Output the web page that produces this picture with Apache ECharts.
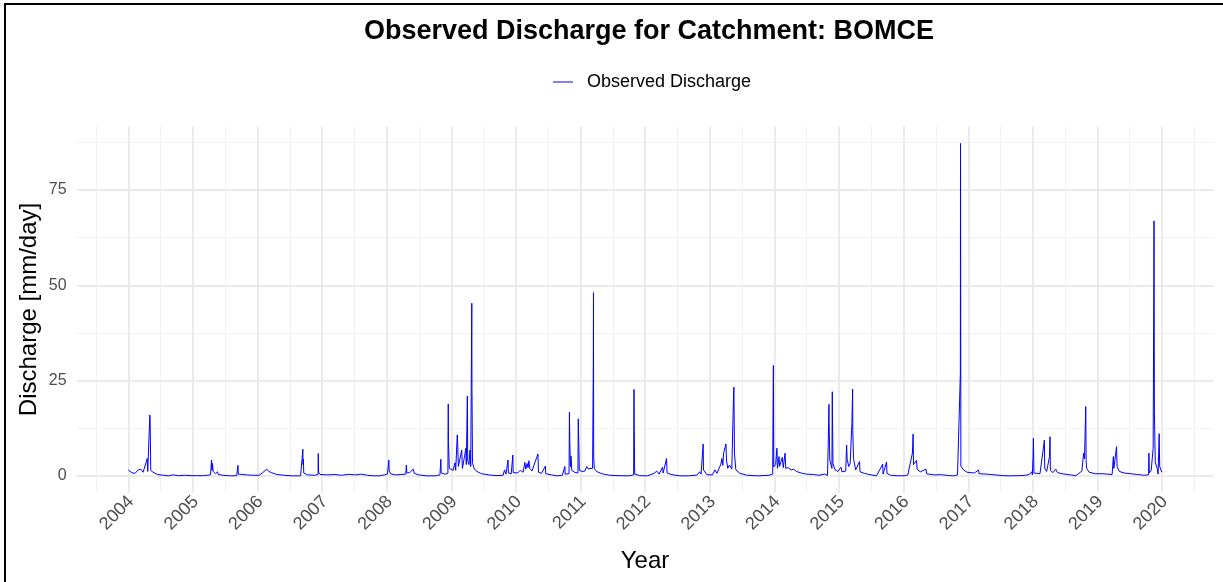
<!DOCTYPE html>
<html>
<head>
<meta charset="utf-8">
<title>Observed Discharge for Catchment: BOMCE</title>
<script src="https://cdn.jsdelivr.net/npm/echarts@6/dist/echarts.min.js"></script>
<style>
  html, body { margin: 0; padding: 0; background: #ffffff; }
  #chart { width: 1223px; height: 582px; }
</style>
</head>
<body>
<div id="chart"></div>
<script>
// Daily observed discharge (mm/day), sampled at event peaks and recession points
const obsDates = [
  '2004-01-01','2004-01-08','2004-01-20','2004-02-08','2004-02-26','2004-03-12','2004-03-25','2004-04-05',
  '2004-04-17','2004-04-20','2004-04-30','2004-05-02','2004-05-04','2004-05-07','2004-05-20','2004-06-15',
  '2004-07-20','2004-08-15','2004-09-10','2004-10-10','2004-11-15','2004-12-20',
  '2005-01-20','2005-03-01','2005-04-10','2005-04-16','2005-04-18','2005-04-21','2005-04-25','2005-05-08',
  '2005-05-20','2005-05-24','2005-06-20','2005-08-01','2005-09-05','2005-09-12','2005-09-14','2005-09-25',
  '2005-11-01','2005-12-10',
  '2006-01-10','2006-01-30','2006-02-22','2006-03-05','2006-03-20','2006-04-20','2006-06-01','2006-07-15',
  '2006-09-01','2006-09-12','2006-09-14','2006-09-15','2006-09-17','2006-09-19','2006-10-10','2006-11-20',
  '2006-12-09','2006-12-10','2006-12-12','2006-12-20',
  '2007-02-01','2007-03-15','2007-04-20','2007-06-01','2007-07-10','2007-08-10','2007-09-15','2007-10-20',
  '2007-11-20','2007-12-20',
  '2008-01-05','2008-01-13','2008-01-15','2008-01-17','2008-01-22','2008-02-20','2008-03-20','2008-04-18',
  '2008-04-21','2008-04-24','2008-05-10','2008-05-30','2008-06-05','2008-06-30','2008-08-15','2008-10-01',
  '2008-10-28','2008-11-02','2008-11-04','2008-11-25','2008-12-12','2008-12-14','2008-12-15','2008-12-20',
  '2009-01-10','2009-01-21','2009-01-25','2009-02-03','2009-02-05','2009-02-09','2009-02-15','2009-02-28',
  '2009-03-04','2009-03-12','2009-03-24','2009-03-26','2009-04-01','2009-04-03','2009-04-10','2009-04-16',
  '2009-04-20','2009-04-26','2009-04-27','2009-04-30','2009-05-10','2009-05-25','2009-06-20','2009-08-01',
  '2009-09-10','2009-10-20','2009-10-28','2009-11-05','2009-11-17','2009-11-19','2009-12-05','2009-12-14',
  '2009-12-16',
  '2010-01-10','2010-01-25','2010-02-10','2010-02-20','2010-02-25','2010-03-05','2010-03-10','2010-03-15',
  '2010-03-20','2010-04-01','2010-05-05','2010-05-08','2010-05-25','2010-06-16','2010-06-18','2010-07-20',
  '2010-08-20','2010-09-20','2010-10-04','2010-10-06','2010-10-28','2010-10-30','2010-11-01','2010-11-05',
  '2010-11-08','2010-11-12','2010-12-01','2010-12-17','2010-12-19','2010-12-21','2010-12-25',
  '2011-01-10','2011-01-25','2011-02-05','2011-02-12','2011-02-20','2011-03-10','2011-03-14','2011-03-15',
  '2011-03-16','2011-03-20','2011-04-01','2011-05-01','2011-06-15','2011-08-01','2011-10-01','2011-10-28',
  '2011-10-30','2011-10-31','2011-11-03','2011-12-01',
  '2012-01-15','2012-02-20','2012-03-07','2012-03-20','2012-04-08','2012-04-12','2012-05-01','2012-05-04',
  '2012-06-01','2012-07-15','2012-09-01','2012-10-20','2012-11-05','2012-11-12','2012-11-24','2012-11-26',
  '2012-12-15',
  '2013-01-15','2013-01-30','2013-02-10','2013-03-04','2013-03-10','2013-03-15','2013-03-20','2013-04-02',
  '2013-04-05','2013-04-12','2013-04-22','2013-05-05','2013-05-15','2013-05-17','2013-05-20','2013-05-28',
  '2013-06-20','2013-08-01','2013-10-01','2013-12-01','2013-12-22','2013-12-24','2013-12-26','2013-12-28',
  '2014-01-08','2014-01-15','2014-01-18','2014-01-27','2014-01-30','2014-02-08','2014-02-14','2014-02-20',
  '2014-03-02','2014-03-06','2014-03-20','2014-04-05','2014-04-20','2014-05-05','2014-06-01','2014-07-01',
  '2014-08-10','2014-09-10','2014-10-10','2014-10-28','2014-11-01','2014-11-05','2014-11-06','2014-11-10',
  '2014-11-22','2014-11-24','2014-11-25','2014-11-28','2014-12-10','2014-12-25',
  '2015-01-05','2015-01-12','2015-01-18','2015-02-08','2015-02-13','2015-02-16','2015-02-25','2015-03-05',
  '2015-03-15','2015-03-19','2015-03-20','2015-03-24','2015-04-05','2015-04-27','2015-04-30','2015-05-25',
  '2015-07-01','2015-08-01','2015-09-05','2015-09-07','2015-09-27','2015-09-29','2015-10-20','2015-12-01',
  '2016-01-10','2016-01-25','2016-02-20','2016-02-24','2016-02-26','2016-03-14','2016-03-18','2016-04-05',
  '2016-05-07','2016-05-10','2016-06-20','2016-08-01','2016-09-10','2016-10-10','2016-11-01','2016-11-17',
  '2016-11-18','2016-11-20','2016-12-05','2016-12-25',
  '2017-01-10','2017-02-05','2017-02-28','2017-03-03','2017-04-15','2017-06-01','2017-07-15','2017-08-20',
  '2017-10-15','2017-11-20','2017-12-10','2017-12-27','2017-12-29',
  '2018-01-02','2018-01-04','2018-01-07','2018-02-10','2018-02-28','2018-03-07','2018-03-09','2018-03-20',
  '2018-04-05','2018-04-08','2018-04-10','2018-04-25','2018-05-10','2018-05-20','2018-06-15','2018-08-01',
  '2018-09-01','2018-10-05','2018-10-15','2018-10-20','2018-10-27','2018-10-29','2018-11-01','2018-11-15',
  '2018-12-20',
  '2019-02-01','2019-03-25','2019-04-01','2019-04-04','2019-04-19','2019-04-22','2019-05-05','2019-05-15',
  '2019-06-01','2019-07-10','2019-08-15','2019-09-20','2019-10-17','2019-10-19','2019-10-21','2019-11-01',
  '2019-11-12','2019-11-17','2019-11-19','2019-11-24','2019-12-05','2019-12-10','2019-12-16','2019-12-19',
  '2019-12-31'
];
const obsValues = [
  1.6, 1.8, 0.9, 0.7, 1.6, 1.8, 1.0, 0.7,
  4.6, 1.2, 1.5, 16.0, 13.5, 1.5, 1.0, 0.4,
  0.2, 0.05, 0.3, 0.1, 0.2, 0.1,
  0.1, 0.1, 0.3, 4.2, 1.5, 3.3, 1.2, 0.6,
  1.1, 0.4, 0.2, 0.05, 0.1, 2.8, 0.5, 0.2,
  0.3, 0.2,
  0.2, 0.9, 1.8, 1.2, 0.9, 0.4, 0.2, 0.05,
  0.05, 0.4, 7.0, 3.0, 4.4, 0.8, 0.3, 0.2,
  0.4, 5.9, 1.0, 0.4,
  0.3, 0.4, 0.2, 0.45, 0.3, 0.5, 0.2, 0.05,
  0.05, 0.3,
  0.5, 4.2, 1.5, 2.0, 0.6, 0.3, 0.4, 0.5,
  2.9, 0.8, 0.9, 1.8, 0.7, 0.3, 0.05, 0.05,
  0.3, 4.4, 0.8, 0.5, 0.7, 18.9, 9.0, 2.0,
  1.5, 3.5, 1.5, 10.8, 8.7, 2.5, 2.0, 6.8,
  2.0, 2.5, 7.3, 3.0, 21.0, 4.0, 3.0, 6.8,
  2.5, 45.3, 23.2, 3.5, 1.8, 1.2, 0.6, 0.3,
  0.1, 0.2, 1.6, 0.5, 4.2, 0.8, 0.6, 5.5,
  0.9,
  0.8, 1.5, 1.0, 3.6, 1.8, 3.3, 2.2, 4.0,
  2.0, 1.3, 5.8, 1.0, 0.7, 2.6, 0.6, 0.3,
  0.05, 0.2, 2.5, 0.5, 0.6, 16.7, 9.0, 2.5,
  5.2, 1.5, 0.9, 0.8, 15.0, 10.5, 1.5,
  1.2, 1.3, 2.5, 1.9, 2.2, 2.0, 29.0, 48.1,
  5.1, 2.0, 1.2, 0.6, 0.2, 0.1, 0.05, 0.3,
  22.7, 14.3, 0.5, 0.1,
  0.05, 0.7, 1.3, 0.5, 2.3, 0.8, 4.6, 0.8,
  0.35, 0.05, 0.05, 0.25, 1.1, 0.5, 8.4, 1.6,
  0.35,
  0.3, 1.6, 0.7, 3.1, 4.6, 2.8, 6.1, 8.4,
  4.2, 2.0, 2.9, 1.8, 21.7, 23.3, 5.8, 1.6,
  0.7, 0.2, 0.05, 0.2, 0.5, 16.6, 29.0, 2.4,
  3.0, 7.3, 2.0, 5.1, 2.5, 2.8, 4.9, 2.2,
  6.0, 2.0, 2.2, 1.6, 1.8, 1.2, 0.8, 0.5,
  0.4, 0.2, 0.5, 0.2, 8.1, 18.8, 14.0, 4.2,
  2.0, 22.1, 16.0, 3.2, 1.6, 1.2,
  1.1, 2.3, 1.1, 1.3, 8.1, 4.4, 2.5, 3.3,
  13.8, 22.8, 12.0, 4.6, 1.6, 3.8, 1.1, 0.7,
  0.3, 0.05, 3.1, 0.5, 3.7, 0.7, 0.2, 0.05,
  0.1, 0.3, 6.0, 11.0, 3.0, 4.1, 1.7, 1.1,
  1.8, 0.6, 0.3, 0.35, 0.15, 0.05, 0.3, 26.8,
  87.2, 2.6, 1.6, 1.0,
  0.9, 0.8, 1.6, 0.6, 0.5, 0.3, 0.1, 0.05,
  0.1, 0.2, 0.4, 1.1, 0.3,
  5.1, 9.9, 0.8, 0.6, 6.8, 9.4, 2.0, 1.2,
  5.1, 10.3, 1.5, 0.9, 1.8, 0.9, 0.6, 0.3,
  0.1, 1.3, 6.0, 4.5, 18.2, 4.0, 2.0, 1.0,
  0.6,
  0.6, 0.4, 5.1, 2.0, 7.7, 2.5, 1.2, 1.5,
  0.8, 0.6, 0.4, 0.2, 0.3, 6.0, 0.8, 1.5,
  7.3, 66.9, 16.9, 3.5, 2.0, 0.5, 11.1, 2.5,
  1.0
];

// Axis breaks
const yearLabels = ['2004','2005','2006','2007','2008','2009','2010','2011','2012',
                    '2013','2014','2015','2016','2017','2018','2019','2020'];
const yMajorBreaks = [0, 25, 50, 75];
const yMinorBreaks = [12.5, 37.5, 62.5, 87.5];

const toUTC = s => {
  const p = s.split('-').map(Number);
  return Date.UTC(p[0], p[1] - 1, p[2]);
};

const seriesData = obsDates.map((d, i) => [toUTC(d), obsValues[i]]);
const yearTicks = yearLabels.map(y => Date.UTC(+y, 0, 1));
// minor breaks halfway between the yearly breaks (plus one on each outer side)
const minorTicks = [];
for (let y = +yearLabels[0] - 1; y <= +yearLabels[yearLabels.length - 1]; y++) {
  minorTicks.push((Date.UTC(y, 0, 1) + Date.UTC(y + 1, 0, 1)) / 2);
}

// axis limits padded 5% beyond the data range on each side
const tFirst = seriesData[0][0], tLast = seriesData[seriesData.length - 1][0];
const tPad = (tLast - tFirst) * 0.05;
const xMin = tFirst - tPad, xMax = tLast + tPad;
const yMin = -4.37, yMax = 91.7;

const FONT = "'Liberation Sans', Arial, Helvetica, sans-serif";
const GRID_MAJOR = '#EBEBEB';
const GRID_MINOR = '#F2F2F2';

const chart = echarts.init(document.getElementById('chart'), null, { renderer: 'canvas' });

chart.setOption({
  backgroundColor: '#ffffff',
  animation: false,
  textStyle: { fontFamily: FONT },
  title: {
    text: 'Observed Discharge for Catchment: BOMCE',
    left: 644,
    top: 13,
    textAlign: 'center',
    textStyle: { fontFamily: FONT, fontSize: 27, fontWeight: 'bold', color: '#000000' }
  },
  legend: {
    left: 548,
    top: 68,
    icon: 'rect',
    itemWidth: 20,
    itemHeight: 1.5,
    itemStyle: { color: '#5555FF' },
    textStyle: { fontFamily: FONT, fontSize: 18, color: '#000000', padding: [0, 0, 0, 9] },
    data: ['Observed Discharge']
  },
  grid: { left: 76.6, right: 9.5, top: 126.3, bottom: 89.3, containLabel: false },
  xAxis: [
    {
      type: 'value',
      min: xMin,
      max: xMax,
      name: 'Year',
      nameLocation: 'middle',
      nameGap: 57,
      nameMoveOverlap: false,
      nameTextStyle: { fontFamily: FONT, fontSize: 24, color: '#000000' },
      axisLine: { show: false },
      axisTick: { show: false, customValues: yearTicks },
      axisLabel: {
        customValues: yearTicks,
        formatter: v => String(new Date(v).getUTCFullYear()),
        rotate: 45,
        margin: 9,
        padding: [4, -4, 0, 0],
        fontFamily: FONT,
        fontSize: 18,
        color: '#4D4D4D'
      },
      splitLine: { show: true, lineStyle: { color: GRID_MAJOR, width: 2 } },
      z: 1
    },
    {
      type: 'value',
      min: xMin,
      max: xMax,
      axisLine: { show: false },
      axisTick: { show: false, customValues: minorTicks },
      axisLabel: { show: false, customValues: minorTicks },
      splitLine: { show: true, lineStyle: { color: GRID_MINOR, width: 1 } },
      z: 0
    }
  ],
  yAxis: [
    {
      type: 'value',
      min: yMin,
      max: yMax,
      name: 'Discharge [mm/day]',
      nameLocation: 'middle',
      nameGap: 35,
      nameMoveOverlap: false,
      nameTextStyle: { fontFamily: FONT, fontSize: 24, color: '#000000' },
      axisLine: { show: false },
      axisTick: { show: false, customValues: yMajorBreaks },
      axisLabel: {
        customValues: yMajorBreaks,
        margin: 10,
        fontFamily: FONT,
        fontSize: 16,
        color: '#4D4D4D'
      },
      splitLine: { show: true, lineStyle: { color: GRID_MAJOR, width: 2 } },
      z: 1
    },
    {
      type: 'value',
      min: yMin,
      max: yMax,
      axisLine: { show: false },
      axisTick: { show: false, customValues: yMinorBreaks },
      axisLabel: { show: false, customValues: yMinorBreaks },
      splitLine: { show: true, lineStyle: { color: GRID_MINOR, width: 1 } },
      z: 0
    }
  ],
  series: [
    {
      name: 'Observed Discharge',
      type: 'line',
      xAxisIndex: 0,
      yAxisIndex: 0,
      data: seriesData,
      symbol: 'none',
      showSymbol: false,
      lineStyle: { color: '#0000FF', width: 1 },
      itemStyle: { color: '#0000FF' },
      z: 5
    }
  ],
  graphic: [
    {
      type: 'rect',
      silent: true,
      shape: { x: 5, y: 4, width: 1240, height: 600 },
      style: { fill: 'none', stroke: '#000000', lineWidth: 2 },
      z: 100
    }
  ]
});
</script>
</body>
</html>
